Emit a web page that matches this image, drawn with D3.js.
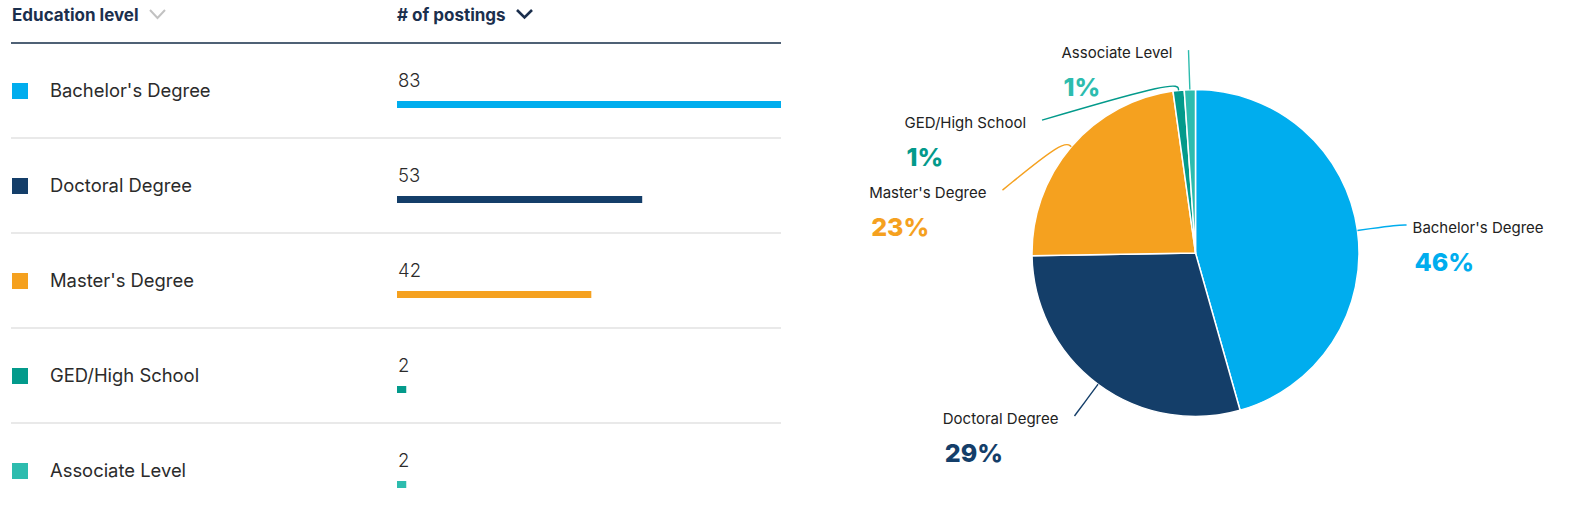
<!DOCTYPE html>
<html>
<head>
<meta charset="utf-8">
<script src="https://cdn.jsdelivr.net/npm/d3@7/dist/d3.min.js"></script>
<style>
  body { margin: 0; background: #fff; }
  svg { display: block; }
</style>
</head>
<body>
<div id="chart"></div>
<script>
// data
const levels = ["Bachelor's Degree", "Doctoral Degree", "Master's Degree", "GED/High School", "Associate Level"]
const postings = [83, 53, 42, 2, 2]
const colors = ['#00adee', '#143e69', '#f5a11f', '#039a8b', '#2dbcae']
const headers = ['Education level', '# of postings']

const width = 1578, height = 511

const svg = d3.select('#chart').append('svg')
    .attr('width', width)
    .attr('height', height)

const rows = levels.map((d, i) => ({ level: d, value: postings[i], color: colors[i] }))

// ---------- table on the left ----------
const table = svg.append('g')
const headerH = 43, rowH = 95,
    tableLeft = 11, tableRight = 781, valueX = 397

table.append('text')
    .attr('x', 12).attr('y', 21)
    .style('font', '700 17px Inter, sans-serif')
    .style('fill', '#1b2f4d')
    .text(headers[0])
table.append('path')
    .attr('d', 'M150,10 L157.5,18 L165,10')
    .attr('fill', 'none').attr('stroke', '#c2c2c2').attr('stroke-width', 2)

table.append('text')
    .attr('x', valueX).attr('y', 21)
    .style('font', '700 17px Inter, sans-serif')
    .style('fill', '#1b2f4d')
    .text(headers[1])
table.append('path')
    .attr('d', 'M517,10 L524.5,17.5 L532,10')
    .attr('fill', 'none').attr('stroke', '#1b2f4d').attr('stroke-width', 2.6)

table.append('line')
    .attr('x1', tableLeft).attr('x2', tableRight)
    .attr('y1', headerH).attr('y2', headerH)
    .attr('stroke', '#4f6175').attr('stroke-width', 2)

const barScale = d3.scaleLinear()
    .domain([0, d3.max(postings)])
    .range([0, tableRight - valueX])

const row = table.selectAll('.row')
    .data(rows)
    .enter().append('g')
    .attr('class', 'row')
    .attr('transform', (d, i) => 'translate(0,' + (headerH + i * rowH) + ')')

row.append('rect')
    .attr('x', 12).attr('y', 40)
    .attr('width', 16).attr('height', 16)
    .style('fill', d => d.color)

row.append('text')
    .attr('x', 50).attr('y', 54)
    .style('font', '400 18.4px Inter, sans-serif')
    .style('fill', '#2b2b2b')
    .text(d => d.level)

row.append('text')
    .attr('x', valueX + 1).attr('y', 44)
    .style('font', '300 18.5px Inter, sans-serif')
    .style('fill', '#2b2b2b')
    .text(d => d.value)

row.append('rect')
    .attr('x', valueX).attr('y', 58)
    .attr('width', d => barScale(d.value))
    .attr('height', 7)
    .style('fill', d => d.color)

row.filter((d, i) => i < rows.length - 1)
    .append('line')
    .attr('x1', tableLeft).attr('x2', tableRight)
    .attr('y1', rowH).attr('y2', rowH)
    .attr('stroke', '#e2e2e2').attr('stroke-width', 1.5)

// ---------- pie on the right ----------
const cx = 1195.5, cy = 253, r = 163.5,
    labelR = 203, labelGap = 70, tail = 10

const total = d3.sum(postings)
const pie = d3.pie().sort(null).value(d => d.value)
const arc = d3.arc().innerRadius(0).outerRadius(r)
const arcs = pie(rows)

const pieG = svg.append('g').attr('transform', 'translate(' + cx + ',' + cy + ')')

pieG.selectAll('.slice')
    .data(arcs)
    .enter().append('path')
    .attr('class', 'slice')
    .attr('d', arc)
    .style('fill', d => d.data.color)
    .style('stroke', '#fff')
    .style('stroke-width', 1.5)

// label positions: start on the circle at mid angle, then push apart vertically
arcs.forEach(d => {
    d.mid = (d.startAngle + d.endAngle) / 2
    d.side = Math.sin(d.mid) >= 0 ? 1 : -1
    d.ly = -labelR * Math.cos(d.mid)
})
;[1, -1].forEach(side => {
    const group = arcs.filter(d => d.side === side).sort((a, b) => a.ly - b.ly)
    for (let i = 1; i < group.length; i++) {
        if (group[i].ly < group[i - 1].ly + labelGap) group[i].ly = group[i - 1].ly + labelGap
    }
})
arcs.forEach(d => {
    const dy = Math.max(-labelR, Math.min(labelR, d.ly))
    d.lx = d.side * Math.sqrt(labelR * labelR - dy * dy)
    // right-hand labels get a short horizontal tail
    d.tail = d.side > 0 ? tail : 0
})

const leader = d3.line().curve(d3.curveBasis)

pieG.selectAll('.leader')
    .data(arcs)
    .enter().append('path')
    .attr('class', 'leader')
    .attr('d', d => {
        const p0 = [r * Math.sin(d.mid), -r * Math.cos(d.mid)]
        const p1 = [(r + 10) * Math.sin(d.mid), -(r + 10) * Math.cos(d.mid)]
        const pts = [p0, p1, [d.lx, d.ly]]
        if (d.tail) pts.push([d.lx + d.tail, d.ly])
        return leader(pts)
    })
    .attr('fill', 'none')
    .attr('stroke', d => d.data.color)
    .attr('stroke-width', 1.4)

const lab = pieG.selectAll('.lab')
    .data(arcs)
    .enter().append('g')
    .attr('class', 'lab')

lab.append('text')
    .attr('class', 'name')
    .attr('y', d => d.ly + 8)
    .style('font', '400 15px Inter, sans-serif')
    .style('fill', '#222')
    .text(d => d.data.level)

lab.append('text')
    .attr('class', 'pct')
    .attr('y', d => d.ly + 46)
    .style('font', '800 25px Inter, sans-serif')
    .style('fill', d => d.data.color)
    .text(d => Math.round(d.data.value / total * 100) + '%')

lab.each(function (d) {
    const g = d3.select(this)
    const nameW = g.select('.name').node().getComputedTextLength()
    const pctW = g.select('.pct').node().getComputedTextLength()
    const w = Math.max(nameW, pctW)
    const x0 = d.side > 0 ? d.lx + d.tail + 6 : d.lx - 16 - w
    g.select('.name').attr('x', x0)
    g.select('.pct').attr('x', x0 + 2)
})
</script>
</body>
</html>
